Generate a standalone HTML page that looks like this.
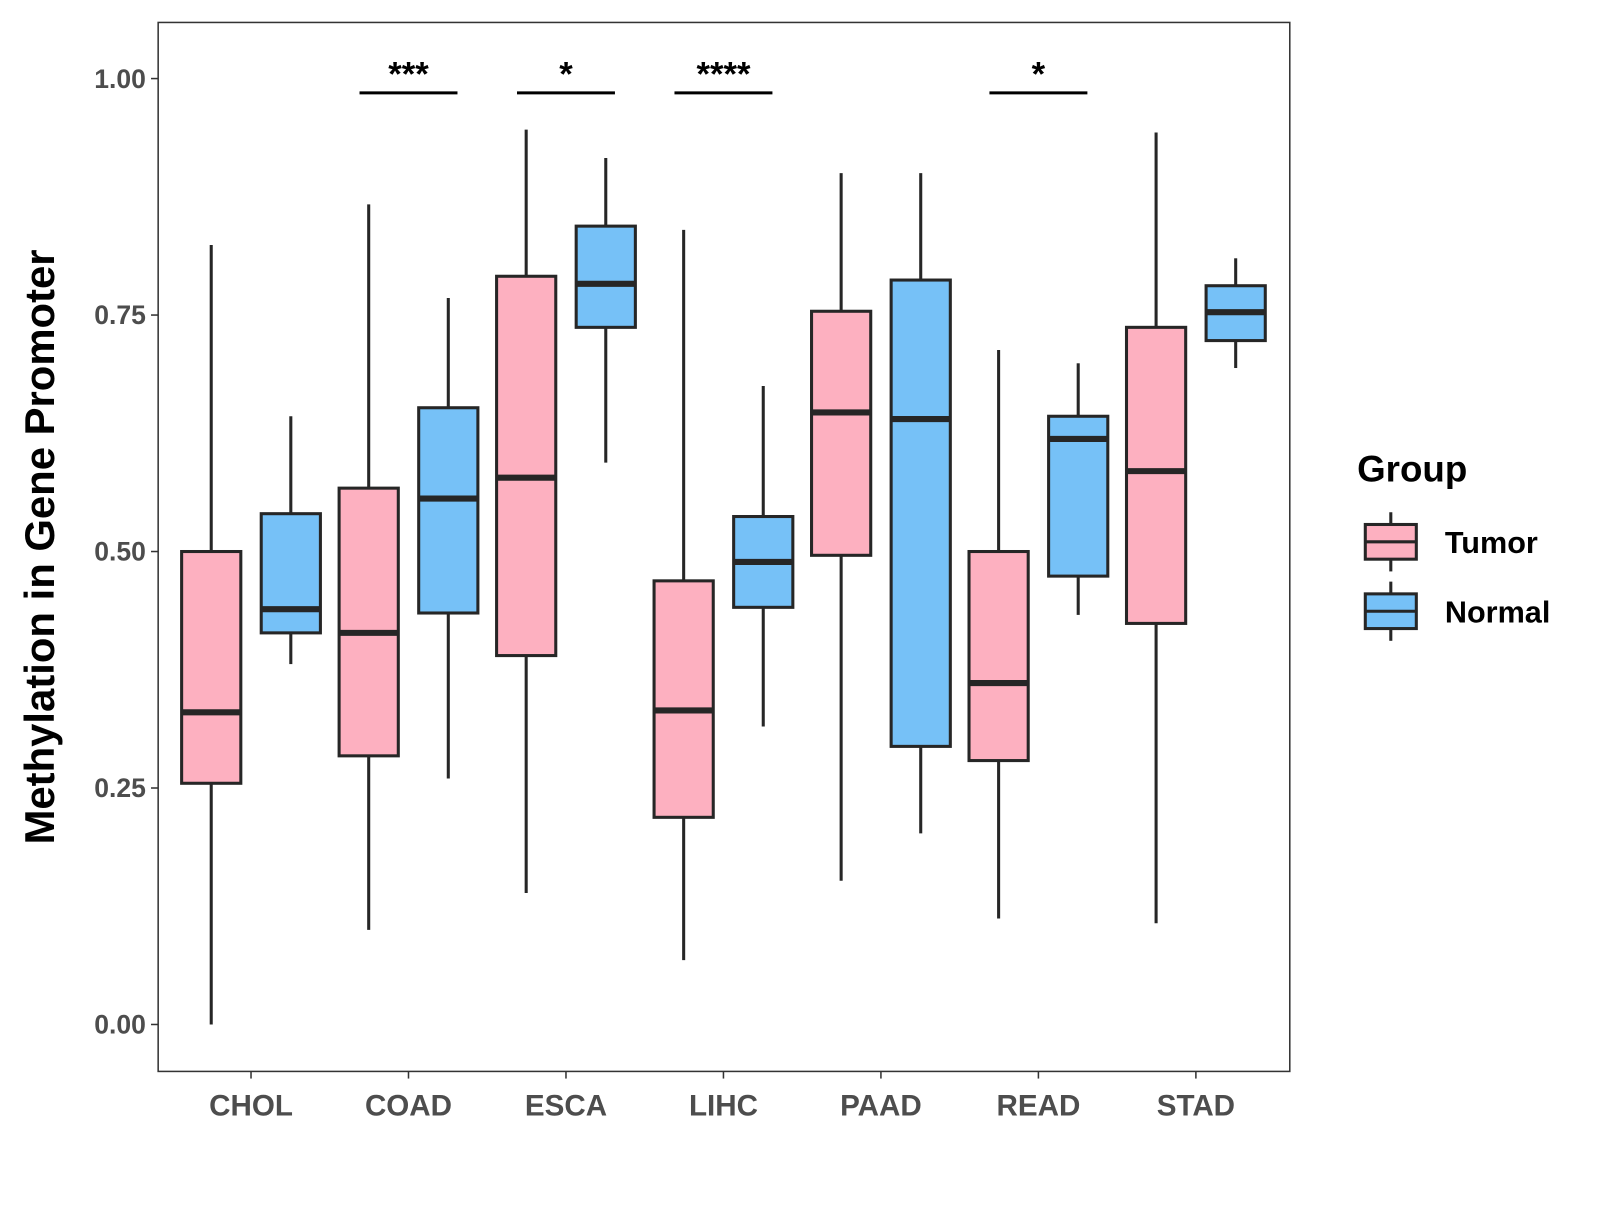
<!DOCTYPE html>
<html><head><meta charset="utf-8"><style>
body{margin:0;background:#fff;width:1600px;height:1200px;overflow:hidden}
text{font-family:"Liberation Sans",Arial,sans-serif;font-weight:bold}
</style></head><body>
<svg width="1600" height="1200"><g id="chart" transform="scale(1.0204)"></g></svg>
<script>
const categories=["CHOL","COAD","ESCA","LIHC","PAAD","READ","STAD"];
const tumorStats=[[0.0,0.255,0.33,0.50,0.824],[0.100,0.284,0.414,0.567,0.867],[0.139,0.39,0.578,0.791,0.946],[0.068,0.219,0.332,0.469,0.84],[0.152,0.496,0.647,0.754,0.9],[0.112,0.279,0.361,0.50,0.713],[0.107,0.424,0.585,0.737,0.943]];
const normalStats=[[0.381,0.414,0.439,0.54,0.643],[0.26,0.435,0.556,0.652,0.768],[0.594,0.737,0.783,0.844,0.916],[0.315,0.441,0.489,0.537,0.675],[0.202,0.294,0.64,0.787,0.9],[0.433,0.474,0.619,0.643,0.699],[0.694,0.723,0.753,0.781,0.81]];
const yTicks=[0,0.25,0.5,0.75,1.0];
const yTickLabels=["0.00","0.25","0.50","0.75","1.00"];
const sigCats=["COAD","ESCA","LIHC","READ"];
const sigLabels=["***","*","****","*"];
const NS="http://www.w3.org/2000/svg";
const svg=document.getElementById("chart");
const L=155,R=1264,T=22,B=1050;
const yS=v=>1004-v*927;
const xS=i=>246+i*154.33;
function el(tag,attrs,parent){const e=document.createElementNS(NS,tag);for(const k in attrs)e.setAttribute(k,attrs[k]);(parent||svg).appendChild(e);return e;}
const panel=el("rect",{x:L,y:T,width:R-L,height:B-T,fill:"#fff",stroke:"#333","stroke-width":1.5});


yTicks.forEach((v,i)=>{
 const tk=el("line",{x1:L-7,x2:L,y1:yS(v),y2:yS(v),stroke:"#333","stroke-width":1.5});
 
 
 const t=el("text",{x:L-12,y:yS(v)+9,"text-anchor":"end","font-size":26,fill:"#4d4d4d"});
 t.textContent=yTickLabels[i];
 
 
});
function box(s,cx,fill,name){
 const g=el("g",{});
 
 
 const w=58,st="#262626";
 el("line",{x1:cx,x2:cx,y1:yS(s[4]),y2:yS(s[3]),stroke:st,"stroke-width":3},g);
 el("line",{x1:cx,x2:cx,y1:yS(s[1]),y2:yS(s[0]),stroke:st,"stroke-width":3},g);
 el("rect",{x:cx-w/2,y:yS(s[3]),width:w,height:yS(s[1])-yS(s[3]),fill:fill,stroke:st,"stroke-width":3},g);
 el("line",{x1:cx-w/2,x2:cx+w/2,y1:yS(s[2]),y2:yS(s[2]),stroke:st,"stroke-width":6},g);
}
categories.forEach((c,i)=>{
 const cx=xS(i);
 box(tumorStats[i],cx-39,"#FDB0C0","box-tumor-"+c.toLowerCase());
 box(normalStats[i],cx+39,"#76C1F7","box-normal-"+c.toLowerCase());
 const tk=el("line",{x1:cx,x2:cx,y1:B,y2:B+7,stroke:"#333","stroke-width":1.5});
 
 
 const t=el("text",{x:cx,y:B+43,"text-anchor":"middle","font-size":29,fill:"#4d4d4d"});
 t.textContent=c;
 
 
});
sigCats.forEach((c,j)=>{
 const cx=xS(categories.indexOf(c));
 const ln=el("line",{x1:cx-48,x2:cx+48,y1:91,y2:91,stroke:"#000","stroke-width":3});
 
 
 const t=el("text",{x:cx,y:84,"text-anchor":"middle","font-size":34,fill:"#000"});
 t.textContent=sigLabels[j];
 
 
});
const yt=el("text",{x:0,y:0,"text-anchor":"middle","font-size":41,fill:"#000",transform:"translate(53,536) rotate(-90)"});
yt.textContent="Methylation in Gene Promoter";


const lt=el("text",{x:1330,y:472,"font-size":36,fill:"#000"});
lt.textContent="Group";


[["Tumor","#FDB0C0",531],["Normal","#76C1F7",599]].forEach(([n,f,y])=>{
 const g=el("g",{});
 
 
 el("line",{x1:1363,x2:1363,y1:y-29,y2:y+29,stroke:"#262626","stroke-width":3},g);
 el("rect",{x:1338,y:y-17,width:50,height:34,fill:f,stroke:"#262626","stroke-width":3},g);
 el("line",{x1:1338,x2:1388,y1:y,y2:y,stroke:"#262626","stroke-width":3},g);
 const t=el("text",{x:1416,y:y+11,"font-size":30,fill:"#000"},g);
 t.textContent=n;
});
</script>
</body></html>
